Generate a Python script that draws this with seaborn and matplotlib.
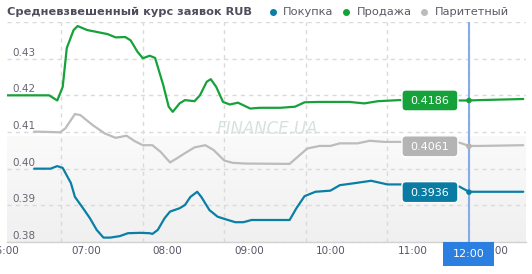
import matplotlib
matplotlib.use("Agg")
import numpy as np
import pandas as pd
import seaborn as sns
import matplotlib.pyplot as plt
from matplotlib.transforms import ScaledTranslation, blended_transform_factory
from matplotlib.patches import FancyBboxPatch, Rectangle
from matplotlib.lines import Line2D

# ---------------- data ----------------
title = "Средневзвешенный курс заявок RUB"
series_names = ["Покупка", "Продажа", "Паритетный"]
series_colors = ["#0a7fa6", "#17a13a", "#bcbcbc"]

sell_times = ["06:20", "06:51", "06:57", "07:01", "07:04", "07:09", "07:12", "07:19", "07:26",
              "07:34", "07:40", "07:47", "07:51", "07:56", "08:00", "08:05", "08:09", "08:15",
              "08:19", "08:22", "08:27", "08:31", "08:38", "08:42", "08:47", "08:50", "08:54",
              "08:59", "09:04", "09:10", "09:19", "09:26", "09:41", "09:52", "09:59", "10:10",
              "10:32", "10:43", "10:53", "11:09", "11:53", "12:00", "12:08", "12:40"]
sell_vals = [0.4200, 0.4200, 0.4186, 0.4223, 0.4329, 0.4378, 0.4389, 0.4378, 0.4373,
             0.4367, 0.4358, 0.4359, 0.4350, 0.4319, 0.4301, 0.4308, 0.4302, 0.4228,
             0.4169, 0.4155, 0.4178, 0.4187, 0.4184, 0.4200, 0.4237, 0.4244, 0.4223,
             0.4182, 0.4175, 0.4180, 0.4164, 0.4166, 0.4166, 0.4169, 0.4181, 0.4182,
             0.4182, 0.4178, 0.4184, 0.4187, 0.4186, 0.4186, 0.4187, 0.4190]

par_times = ["06:40", "06:52", "06:59", "07:03", "07:10", "07:14", "07:23", "07:32", "07:40",
             "07:48", "07:54", "08:00", "08:07", "08:13", "08:20", "08:25", "08:30", "08:38",
             "08:46", "08:52", "09:00", "09:06", "09:15", "09:48", "09:57", "10:01", "10:10",
             "10:18", "10:25", "10:38", "10:47", "10:58", "11:09", "11:53", "12:00", "12:08",
             "12:40"]
par_vals = [0.4101, 0.4100, 0.4099, 0.4110, 0.4149, 0.4146, 0.4119, 0.4096, 0.4084,
            0.4090, 0.4075, 0.4064, 0.4064, 0.4046, 0.4017, 0.4028, 0.4040, 0.4058,
            0.4064, 0.4051, 0.4022, 0.4016, 0.4014, 0.4013, 0.4042, 0.4055, 0.4062,
            0.4062, 0.4069, 0.4069, 0.4076, 0.4073, 0.4073, 0.4071, 0.4062, 0.4062,
            0.4064]

buy_times = ["06:40", "06:52", "06:57", "07:01", "07:07", "07:10", "07:16", "07:21", "07:26",
             "07:31", "07:36", "07:43", "07:49", "07:58", "08:05", "08:07", "08:11", "08:16",
             "08:20", "08:27", "08:31", "08:35", "08:40", "08:43", "08:49", "08:55", "09:00",
             "09:08", "09:14", "09:20", "09:48", "09:53", "09:59", "10:07", "10:18", "10:25",
             "10:35", "10:48", "11:00", "11:09", "11:53", "12:00", "12:08", "12:40"]
buy_vals = [0.4000, 0.4000, 0.4007, 0.4002, 0.3961, 0.3923, 0.3892, 0.3865, 0.3833,
            0.3812, 0.3812, 0.3816, 0.3824, 0.3825, 0.3824, 0.3822, 0.3833, 0.3865,
            0.3883, 0.3892, 0.3901, 0.3923, 0.3937, 0.3923, 0.3887, 0.3869, 0.3863,
            0.3854, 0.3854, 0.3860, 0.3860, 0.3892, 0.3925, 0.3937, 0.3940, 0.3955,
            0.3960, 0.3967, 0.3957, 0.3957, 0.3951, 0.3937, 0.3937, 0.3937]

current_time = "12:00"
current_vals = [0.4186, 0.4061, 0.3936]          # sell, parity, buy
current_colors = ["#17a13a", "#b4b4b4", "#0a7ca3"]

x_tick_hours = ["06:00", "07:00", "08:00", "09:00", "10:00", "11:00", "12:00"]
y_ticks = [0.38, 0.39, 0.40, 0.41, 0.42, 0.43, 0.44]
y_labels = ["0.38", "0.39", "0.40", "0.41", "0.42", "0.43", ""]
x_start, x_end = "06:20", "12:42"


def to_h(s):
    h, m = s.split(":")
    return int(h) + int(m) / 60.0


df = pd.concat([
    pd.DataFrame({"t": [to_h(s) for s in buy_times], "v": buy_vals, "s": series_names[0]}),
    pd.DataFrame({"t": [to_h(s) for s in sell_times], "v": sell_vals, "s": series_names[1]}),
    pd.DataFrame({"t": [to_h(s) for s in par_times], "v": par_vals, "s": series_names[2]}),
], ignore_index=True)

# ---------------- figure ----------------
sns.set_theme(style="white")
plt.rcParams["font.family"] = ["DejaVu Sans"]

W, H = 532, 274
fig = plt.figure(figsize=(W / 100, H / 100), dpi=100)
fig.patch.set_facecolor("white")
ax = fig.add_axes([7 / W, 32 / H, 519 / W, 220 / H])
ax.set_facecolor("white")

# background gradient in lower part
grad = np.linspace(0, 1, 64)[:, None]
top_c = np.array([0xfa, 0xfa, 0xfa]) / 255
bot_c = np.array([0xf0, 0xf0, 0xf0]) / 255
img = top_c[None, None, :] * (1 - grad[:, :, None]) + bot_c[None, None, :] * grad[:, :, None]
ax.imshow(img, extent=[0, 1, 0, 0.48], transform=ax.transAxes, aspect="auto", zorder=0,
          origin="upper")

sns.lineplot(data=df, x="t", y="v", hue="s", palette=dict(zip(series_names, series_colors)),
             hue_order=series_names, estimator=None, sort=False, legend=False,
             linewidth=1.6, ax=ax, zorder=3)

ax.set_xlim(to_h(x_start), to_h(x_end))
ax.set_ylim(0.38, 0.44)
ax.set_xlabel("")
ax.set_ylabel("")

ax.set_yticks(y_ticks)
ax.set_yticklabels([])
ax.set_xticks([to_h(s) for s in x_tick_hours[1:]])
ax.set_xticklabels([])
ax.tick_params(axis="y", length=0)
ax.tick_params(axis="x", length=6, width=1, color="#e2e2e2", direction="out")
ax.grid(True, axis="both", color="#dadada", linestyle=(0, (3, 3)), linewidth=1, zorder=1)
ax.set_axisbelow(True)
for side in ["top", "left", "right"]:
    ax.spines[side].set_visible(False)
ax.spines["bottom"].set_color("#d2d2d2")
ax.spines["bottom"].set_linewidth(1)

# y tick labels inside the plot
ytrans = blended_transform_factory(ax.transAxes, ax.transData) + \
    ScaledTranslation(5 / 100, 3 / 100, fig.dpi_scale_trans)
for v, lab in zip(y_ticks, y_labels):
    if lab:
        ax.text(0, v, lab, transform=ytrans, ha="left", va="baseline", fontsize=7.5,
                color="#666675", zorder=2)

# x tick labels (left aligned, right of gridline)
xtrans = blended_transform_factory(ax.transData, ax.transAxes) + \
    ScaledTranslation(10 / 100, -9 / 100, fig.dpi_scale_trans)
for lab in x_tick_hours:
    ax.text(to_h(lab), 0, lab, transform=xtrans, ha="left", va="center", fontsize=7.5,
            color="#555566", clip_on=False)

# watermark
fig.text(267 / W, 1 - 129 / H, "FINANCE.UA", fontsize=12, style="italic", color="#d6e2e2",
         ha="center", va="center", zorder=1)

# crosshair
tc = to_h(current_time)
ax.axvline(tc, color="#84ace8", linewidth=1.5, zorder=4)
ax.scatter([tc] * 3, current_vals, s=16, c=current_colors, zorder=5, linewidths=0)

# value boxes
for val, col in zip(current_vals, current_colors):
    tr = fig.dpi_scale_trans + ScaledTranslation(tc, val, ax.transData)
    cx = -0.39
    box = FancyBboxPatch((cx - 0.28, -0.105), 0.56, 0.21,
                         boxstyle="round,pad=0,rounding_size=0.04",
                         facecolor=col, edgecolor="white", linewidth=1,
                         transform=tr, zorder=6, clip_on=False)
    ax.add_patch(box)
    ax.text(cx, -0.005, f"{val:.4f}", transform=tr, ha="center", va="center",
            fontsize=8, color="white", zorder=7)

# time box on x axis
tr0 = fig.dpi_scale_trans + ScaledTranslation(tc, 0.38, ax.transData)
ax.add_patch(Rectangle((-0.255, -0.235), 0.51, 0.235, facecolor="#2b7fe0",
                       edgecolor="none", transform=tr0, zorder=6, clip_on=False))
ax.text(0, -0.12, current_time, transform=tr0, ha="center", va="center",
        fontsize=8, color="white", zorder=7)

# title
fig.text(7 / W, 1 - 12 / H, title, fontsize=8.2, weight="bold", color="#4d4d5c",
         ha="left", va="center")

# legend
leg_dot_x = [273, 346, 424]
leg_txt_x = [283, 357, 435]
for name, col, dx, tx in zip(series_names, series_colors, leg_dot_x, leg_txt_x):
    fig.add_artist(Line2D([dx / W], [1 - 12 / H], marker="o", markersize=4,
                          markerfacecolor=col, markeredgecolor=col, linestyle="none",
                          transform=fig.transFigure))
    fig.text(tx / W, 1 - 12 / H, name, fontsize=8.2, color="#5a5a66",
             ha="left", va="center")

fig.savefig("out.png", dpi=100)
